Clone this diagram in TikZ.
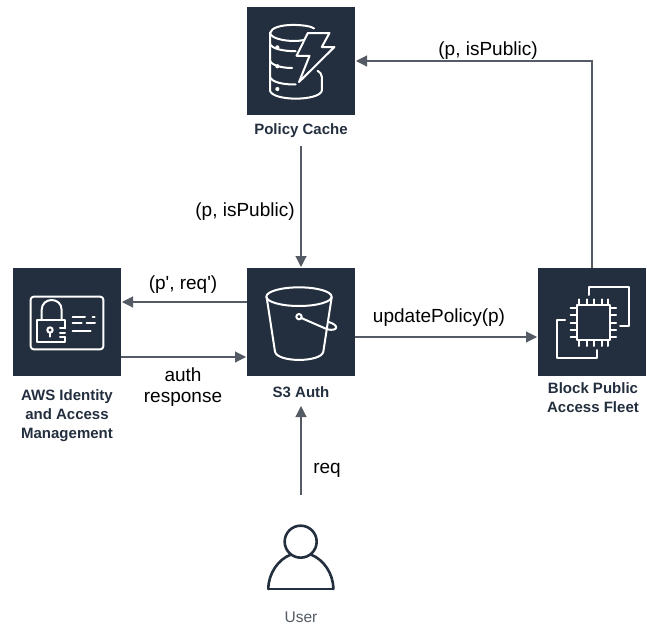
\documentclass[tikz,border=0pt]{standalone}
\usepackage{fontspec}
\setmainfont{Liberation Sans}
\newfontfamily\plainfont{Liberation Sans}
\usetikzlibrary{arrows.meta,calc}
\definecolor{awsdark}{HTML}{232F3E}
\definecolor{awsline}{HTML}{545B64}
\tikzset{
  svcbox/.style={fill=awsdark,draw=none,minimum width=108pt,minimum height=108pt,inner sep=0pt,outer sep=0pt},
  svclabel/.style={font=\fontsize{15}{19}\selectfont\bfseries,text=awsdark,align=center,inner sep=0pt},
  conn/.style={draw=awsline,line width=1.1pt,-{Triangle[length=11pt,width=11pt]},shorten >=1pt},
  edgelabel/.style={font=\fontsize{19}{21.5}\selectfont,text=black,align=center,inner sep=0pt},
  icon/.style={draw=white,line width=2pt,line cap=round,line join=round},
  usericon/.style={draw=awsdark,line width=2.6pt,line cap=round,line join=round},
}
\begin{document}
\begin{tikzpicture}[x=1pt,y=-1pt]
\useasboundingbox (0,0) rectangle (647,626);
\node[svcbox] (cache) at (301,61) {};
\node[svcbox] (s3) at (301,322) {};
\node[svcbox] (iam) at (67,322) {};
\node[svcbox] (fleet) at (592,322) {};
\node[svclabel] (cachelabel) at (301,131) {Policy Cache};
\node[svclabel] (s3label) at (301,392) {S3 Auth};
\node[svclabel] (iamlabel) at (67,416) {AWS Identity\\and Access\\Management};
\node[svclabel] (fleetlabel) at (593,398) {Block Public\\Access Fleet};
\node[font=\fontsize{15.5}{18}\selectfont,text=awsline,inner sep=0pt] (userlabel) at (301,617) {User};
\coordinate (cachebottom) at (301,146);
\coordinate (userhead) at (301,495);
\coordinate (usertip) at (301,405);
% connectors
\draw[conn] (fleet.north) |- (cache.east);
\draw[conn] (cachebottom) -- (s3.north);
\draw[conn] ($(s3.west)+(0,-20)$) -- ($(iam.east)+(0,-20)$);
\draw[conn] ($(iam.east)+(0,35)$) -- ($(s3.west)+(0,35)$);
\draw[conn] ($(s3.east)+(0,15)$) -- ($(fleet.west)+(0,15)$);
\draw[conn] (userhead) -- (usertip);
% edge labels
\node[edgelabel] (l1) at (488,51) {(p, isPublic)};
\node[edgelabel] (l2) at (245,212) {(p, isPublic)};
\node[edgelabel] (l3) at (183,285) {\plainfont (p', req')};
\node[edgelabel] (l4) at (183,387) {auth\\response};
\node[edgelabel] (l5) at (439,318) {updatePolicy(p)};
\node[edgelabel] (l6) at (327,470) {req};
% cache icon
\begin{scope}[shift={(237.8,-2)},scale=0.35]
\draw[icon] (218,87) .. controls (205,75) and (100,68) .. (92,100) -- (92,130) .. controls (95,145) and (130,152) .. (165,152);
\draw[icon] (92,100) .. controls (95,118) and (150,128) .. (190,120);
\draw[icon] (92,130) -- (92,178) .. controls (95,192) and (125,200) .. (155,200);
\draw[icon] (92,178) -- (92,225) .. controls (95,240) and (130,248) .. (165,247);
\draw[icon] (92,225) -- (92,265) .. controls (100,295) and (232,295) .. (240,265) -- (240,225) .. controls (240,218) and (235,212) .. (228,208);
\draw[icon] (200,100) -- (262,100) -- (240,140) -- (276,140) -- (175,240) -- (205,165) -- (168,165) -- cycle;
\fill[white] (113,141) circle (6) (113,195) circle (6) (113,260) circle (6);
\end{scope}
% iam icon
\begin{scope}[shift={(0,260)},scale=1/3]
\draw[icon,rounded corners=3pt] (92,110) rectangle (310,268);
\draw[icon] (125,180) -- (125,150) .. controls (125,110) and (185,110) .. (185,150) -- (185,180);
\draw[icon] (195,205) -- (195,180) -- (110,180) -- (110,245) -- (195,245) -- (195,232);
\draw[icon] (180,205) -- (195,205) (180,219) -- (195,219) (180,232) -- (195,232);
\draw[icon] (150,210) circle (8);
\draw[icon] (150,218) -- (150,230);
\draw[icon] (218,170) -- (255,170) (278,170) -- (284,170);
\draw[icon] (218,190) -- (245,190) (260,190) -- (285,190);
\draw[icon] (218,212) -- (272,212);
\end{scope}
% s3 icon
\begin{scope}[shift={(240,260)},scale=1/3]
\draw[icon] (177,110) ellipse (98 and 28);
\draw[icon] (80,112) -- (105,275) .. controls (112,308) and (243,308) .. (250,275) -- (275,112);
\draw[icon] (177,170) circle (8);
\draw[icon] (184,174) -- (262,208) .. controls (295,215) and (298,195) .. (266,186);
\end{scope}
% fleet icon
\begin{scope}[shift={(530,260)},scale=1/3]
\draw[icon] (178,105) -- (178,82) -- (298,82) -- (298,198) -- (270,198);
\draw[icon] (105,180) -- (82,180) -- (82,295) -- (200,295) -- (200,270);
\draw[icon] (140,135) rectangle (240,240);
\foreach \p in {147,170,193,216,235} {
  \draw[icon] (\p,118) -- (\p,135);
  \draw[icon] (\p,240) -- (\p,258);
}
\foreach \p in {145,165,188,211,232} {
  \draw[icon] (122,\p) -- (140,\p);
  \draw[icon] (240,\p) -- (258,\p);
}
\end{scope}
% user icon
\begin{scope}[shift={(250,510)},scale=1/3]
\draw[usericon] (152,95) circle (48);
\draw[usericon] (55,237) -- (250,237);
\draw[usericon] (55,237) .. controls (55,190) and (85,148) .. (122,134);
\draw[usericon] (250,237) .. controls (250,190) and (220,148) .. (183,134);
\end{scope}
\end{tikzpicture}
\end{document}
